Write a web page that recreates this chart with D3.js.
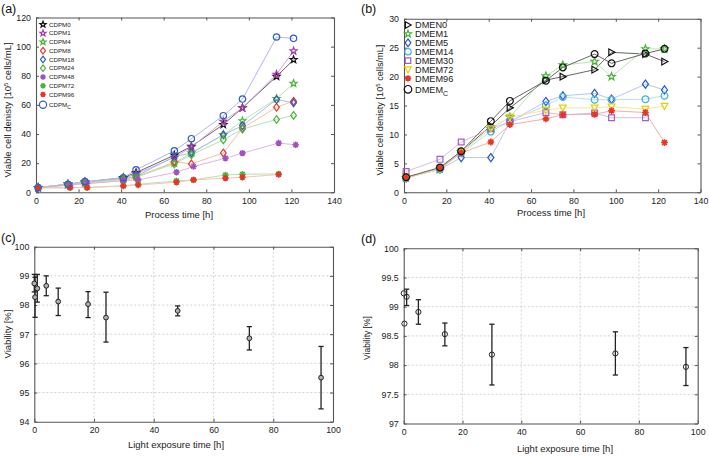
<!DOCTYPE html>
<html><head><meta charset="utf-8">
<script src="https://cdn.jsdelivr.net/npm/d3@7"></script>
<style>
body{margin:0;background:#fff;}
svg{display:block;font-family:"Liberation Sans",Arial,sans-serif;}
</style></head>
<body><svg id="c" width="709" height="456"></svg>
<script>
// ---------- DATA ----------
// Panel (a)
const timesA = [1,15,23,41,47,65,73,88,97,113,121];
const timesB = [1,16,24,41,48,66,74,89,97,114,122];
const timesB10 = [1,16,24,41,48,66,74,89,97,114];
const cdpm0  = [3.2,5.5,7,10,13.5,25.5,31.5,46.5,58,79.5,91];
const cdpm1  = [3.2,5.5,7,9.5,12.5,24,31,48.7,58,81,97];
const cdpm4  = [3.2,5.5,6.5,9,11,20,27,39.5,49,64.3,74.7];
const cdpm8  = [3.2,5,6,8,10,21,19.5,27,44,58.4,62.5];
const cdpm18 = [3.2,5.5,7,9,11,24.5,27,39.5,45.7,63.7,61.4];
const cdpm24 = [3.2,5.5,6.5,9,10.5,19.5,25.7,36,43.4,50,52.8];
const cdpm48 = [3,5,6,8,8.5,13.8,17.7,23.4,26.9,33.8,32.6];
const cdpm72 = [3,3.2,3.3,4.5,5.5,7.8,8.5,11.9,12.4,12.6];
const cdpm96 = [3,3.2,3.2,4.3,5,6.9,8.5,9.7,10.3,12.2];
const cdpmC  = [3.2,5.5,7.3,10,15.4,28.5,36.8,52.6,64,106.6,105.7];
const namesA = ["CDPM0","CDPM1","CDPM4","CDPM8","CDPM18","CDPM24","CDPM48","CDPM72","CDPM96","CDPM"];
// Panel (b)
const timesD = [1,17,27,41,50,67,75,90,98,114,123];
const dmen0  = [2.6,4,7,11.5,14.6,19.4,20,21.2,24.2,23.9,22.6];
const dmem1  = [2.5,4,7,11,13,20.1,22,22.6,20,24.8,24.8];
const dmem5  = [2.5,4,6,6,12.2,15.7,16.7,17.1,16.1,18.7,17.7];
const dmem14 = [2.5,4,6.8,10.5,12.3,15,16.5,16,16,16.1,16.7];
const dmem30 = [3.6,5.7,8.7,11,12.2,13.8,13.4,13.7,12.9,12.9];
const dmem72 = [2.5,4,7,11,13,14.2,14.6,14.6,14.8,14.4,14.9];
const dmem96 = [2.5,4.2,6.8,8.7,11.7,12.7,13.4,13.5,14.1,13.8,8.6];
const dmemC  = [2.6,4.3,7.1,12.3,15.8,19.3,21.6,23.9,22.3,24,24.8];
const namesB = ["DMEN0","DMEM1","DMEM5","DMEM14","DMEM30","DMEM72","DMEM96","DMEM"];
// Panel (c)
const expC   = [0,0.25,1,4,8,18,24,48,72,96];
const viabC  = [98.74,98.27,98.57,98.66,98.12,98.03,97.57,97.8,96.86,95.51];
const viabCLo= [98.45,97.58,98.1,98.32,97.64,97.57,96.73,97.63,96.46,94.44];
const viabCHi= [99.05,98.95,99.05,99.0,98.58,98.46,98.44,97.97,97.26,96.58];
// Panel (d)
const expD   = [0,0.25,1,5,14,30,72,96];
const viabD  = [99.23,98.71,99.17,98.91,98.53,98.18,98.2,97.97];
const viabDLo= [99.23,98.71,99.02,98.70,98.33,97.66,97.83,97.65];
const viabDHi= [99.23,98.71,99.30,99.12,98.72,98.70,98.57,98.30];

// ---------- STYLE ----------
const colA = ["#111111","#a838b0","#4cb03c","#e83424","#2c58c0","#4cb03c","#a050c0","#4cb03c","#e83424","#3060c8"];
const lineA = ["#666666","#d4a4dc","#b8e2b0","#f6c0a4","#aabce6","#b8e2b0","#dab8e6","#b8e2b0","#f6c8ae","#b4b4ec"];
const mkA = ["star","star","star","diamond","diamond","diamond","asterisk","asterisk","asterisk","circle"];
const colB = ["#111111","#4cb03c","#2c58c0","#40b0e0","#a060c0","#e8d000","#e83424","#111111"];
const lineB = ["#666666","#bce4b4","#b4c8ec","#b4e0f2","#d8bce6","#f2ea9c","#f4b0a8","#666666"];
const mkB = ["triRight","star","diamond","circle","square","triDown","asterisk","circle"];

const svg = d3.select("#c");
const axisCol = "#555";

function markerPath(type, s){
  const p = d3.path();
  if(type==="star"){
    for(let i=0;i<10;i++){
      const r = i%2===0? s*1.15 : s*0.48;
      const a = -Math.PI/2 + i*Math.PI/5;
      if(i===0) p.moveTo(r*Math.cos(a), r*Math.sin(a)); else p.lineTo(r*Math.cos(a), r*Math.sin(a));
    }
    p.closePath();
  } else if(type==="diamond"){
    p.moveTo(0,-s*1.2); p.lineTo(s*0.9,0); p.lineTo(0,s*1.2); p.lineTo(-s*0.9,0); p.closePath();
  } else if(type==="square"){
    p.rect(-s*0.85,-s*0.85,s*1.7,s*1.7);
  } else if(type==="triRight"){
    p.moveTo(-s*0.8,-s); p.lineTo(s*1.0,0); p.lineTo(-s*0.8,s); p.closePath();
  } else if(type==="triDown"){
    p.moveTo(-s,-s*0.8); p.lineTo(s,-s*0.8); p.lineTo(0,s); p.closePath();
  } else if(type==="asterisk"){
    for(let i=0;i<4;i++){
      const a = i*Math.PI/4;
      p.moveTo(-s*Math.cos(a),-s*Math.sin(a)); p.lineTo(s*Math.cos(a),s*Math.sin(a));
    }
  } else {
    p.arc(0,0,s,0,2*Math.PI);
  }
  return p.toString();
}
function drawMarker(g,type,x,y,s,col){
  const isAst = type==="asterisk";
  g.append("path").attr("d",markerPath(type,s)).attr("transform",`translate(${x},${y})`)
    .attr("fill","none").attr("stroke",col).attr("stroke-width", isAst?1.6:1.2);
}

function frame(x,y,xt,yt,fmtY,grid){
  const [x0,x1]=x.range(), [y0,y1]=y.range();
  const g = svg.append("g");
  if(grid){
    xt.forEach(t=>{ if(t>x.domain()[0]&&t<x.domain()[1]) g.append("line").attr("x1",x(t)).attr("x2",x(t)).attr("y1",y0).attr("y2",y1).attr("stroke","#c8c8c8").attr("stroke-dasharray","2,2").attr("stroke-width",0.8);});
    yt.forEach(t=>{ if(t>y.domain()[0]&&t<y.domain()[1]) g.append("line").attr("x1",x0).attr("x2",x1).attr("y1",y(t)).attr("y2",y(t)).attr("stroke","#c8c8c8").attr("stroke-dasharray","2,2").attr("stroke-width",0.8);});
  }
  const bot = g.append("g").attr("transform",`translate(0,${y0})`).call(d3.axisBottom(x).tickValues(xt).tickSizeInner(-3).tickSizeOuter(0).tickPadding(5));
  const top = g.append("g").attr("transform",`translate(0,${y1})`).call(d3.axisTop(x).tickValues(xt).tickSizeInner(-3).tickSizeOuter(0).tickFormat(""));
  const lef = g.append("g").attr("transform",`translate(${x0},0)`).call(d3.axisLeft(y).tickValues(yt).tickSizeInner(-3).tickSizeOuter(0).tickPadding(5).tickFormat(fmtY));
  const rig = g.append("g").attr("transform",`translate(${x1},0)`).call(d3.axisRight(y).tickValues(yt).tickSizeInner(-3).tickSizeOuter(0).tickFormat(""));
  [bot,top,lef,rig].forEach(a=>{
    a.select(".domain").attr("stroke",axisCol).attr("stroke-width",1.1);
    a.selectAll(".tick line").attr("stroke",axisCol);
    a.selectAll("text").attr("font-size",8.8).attr("fill","#222").attr("font-family","'Liberation Sans',Arial,sans-serif");
  });
  return g;
}

// ---------- PANEL (a) ----------
{
  const x = d3.scaleLinear().domain([0,140]).range([36,334]);
  const y = d3.scaleLinear().domain([0,120]).range([192.3,17.5]);
  frame(x,y,d3.range(0,141,20),d3.range(0,121,20),d3.format("d"),false);
  const series = [cdpm0,cdpm1,cdpm4,cdpm8,cdpm18,cdpm24,cdpm48,cdpm72,cdpm96,cdpmC];
  const tms = [timesA,timesA,timesA,timesA,timesA,timesA,timesB,timesB10,timesB10,timesA];
  const g = svg.append("g");
  const line = d3.line().x(d=>x(d[0])).y(d=>y(d[1]));
  series.forEach((s,i)=>{
    const pts = s.map((v,j)=>[tms[i][j],v]);
    g.append("path").attr("d",line(pts)).attr("fill","none").attr("stroke",lineA[i]).attr("stroke-width",1);
  });
  series.forEach((s,i)=>{
    s.forEach((v,j)=>drawMarker(g,mkA[i],x(tms[i][j]),y(v),3.2,colA[i]));
  });
  // legend
  const lg = svg.append("g");
  namesA.forEach((n,i)=>{
    const yy = 24.5 + i*8.75 + (i===9?1.5:0);
    drawMarker(lg,mkA[i],43,yy,i===9?3.6:2.8,colA[i]);
    const t = lg.append("text").attr("x",49).attr("y",yy+2.2).attr("font-size",6.2).attr("fill","#222").text(n);
    if(i===9) t.append("tspan").attr("dy",2.5).attr("font-size",5).text("C");
  });
  svg.append("text").attr("x",179).attr("y",218).attr("text-anchor","middle").attr("font-size",9.5).attr("fill","#222").text("Process time [h]");
  const yl = svg.append("text").attr("transform","translate(11,110) rotate(-90)").attr("text-anchor","middle").attr("font-size",9.5).attr("fill","#222");
  yl.append("tspan").text("Viable cell denisty [10");
  yl.append("tspan").attr("dy",-3.5).attr("font-size",6).text("5");
  yl.append("tspan").attr("dy",3.5).text(" cells/mL]");
  svg.append("text").attr("x",1).attr("y",13).attr("font-size",12.5).attr("fill","#111").text("(a)");
}

// ---------- PANEL (b) ----------
{
  const x = d3.scaleLinear().domain([0,140]).range([404,700.5]);
  const y = d3.scaleLinear().domain([0,30]).range([192.3,18.8]);
  frame(x,y,d3.range(0,141,20),d3.range(0,31,5),d3.format("d"),false);
  const series = [dmen0,dmem1,dmem5,dmem14,dmem30,dmem72,dmem96,dmemC];
  const g = svg.append("g");
  const line = d3.line().x(d=>x(d[0])).y(d=>y(d[1]));
  series.forEach((s,i)=>{
    const pts = s.map((v,j)=>[timesD[j],v]);
    g.append("path").attr("d",line(pts)).attr("fill","none").attr("stroke",lineB[i]).attr("stroke-width",1);
  });
  series.forEach((s,i)=>{
    s.forEach((v,j)=>drawMarker(g,mkB[i],x(timesD[j]),y(v),3.4,colB[i]));
  });
  const lg = svg.append("g");
  namesB.forEach((n,i)=>{
    const yy = 25 + i*8.9 + (i===7?2:0);
    drawMarker(lg,mkB[i],408,yy,i===7?3.8:3.2,colB[i]);
    const t = lg.append("text").attr("x",415).attr("y",yy+3.4).attr("font-size",9.2).attr("fill","#222").text(n);
    if(i===7) t.append("tspan").attr("dy",3).attr("font-size",7).text("C");
  });
  svg.append("text").attr("x",551).attr("y",216).attr("text-anchor","middle").attr("font-size",9.5).attr("fill","#222").text("Process time [h]");
  const yl = svg.append("text").attr("transform","translate(383,110) rotate(-90)").attr("text-anchor","middle").attr("font-size",9.2).attr("fill","#222");
  yl.append("tspan").text("Viable cell denisty [10");
  yl.append("tspan").attr("dy",-3.5).attr("font-size",6).text("5");
  yl.append("tspan").attr("dy",3.5).text(" cells/mL]");
  svg.append("text").attr("x",361).attr("y",13).attr("font-size",12.5).attr("fill","#111").text("(b)");
}

function errPanel(x,y,ts,vs,lo,hi,fill,r){
  const g = svg.append("g");
  ts.forEach((t,i)=>{
    if(hi[i]-lo[i]>0.001){
      g.append("line").attr("x1",x(t)).attr("x2",x(t)).attr("y1",y(lo[i])).attr("y2",y(hi[i])).attr("stroke","#222").attr("stroke-width",1.3);
      [lo[i],hi[i]].forEach(v=>g.append("line").attr("x1",x(t)-2.6).attr("x2",x(t)+2.6).attr("y1",y(v)).attr("y2",y(v)).attr("stroke","#222").attr("stroke-width",1.3));
    }
  });
  ts.forEach((t,i)=>g.append("circle").attr("cx",x(t)).attr("cy",y(vs[i])).attr("r",r).attr("fill",fill).attr("stroke","#222").attr("stroke-width",1));
}

// ---------- PANEL (c) ----------
{
  const x = d3.scaleLinear().domain([0,100]).range([34.3,333]);
  const y = d3.scaleLinear().domain([94,100]).range([421.7,246.7]);
  frame(x,y,d3.range(0,101,20),d3.range(94,101,1),d3.format("d"),true);
  errPanel(x,y,expC,viabC,viabCLo,viabCHi,"#b0b0b0",2.4);
  svg.append("text").attr("x",176).attr("y",448).attr("text-anchor","middle").attr("font-size",9.5).attr("fill","#222").text("Light exposure time [h]");
  svg.append("text").attr("transform","translate(11,334) rotate(-90)").attr("text-anchor","middle").attr("font-size",9.5).attr("fill","#222").text("Viability [%]");
  svg.append("text").attr("x",1).attr("y",242).attr("font-size",12.5).attr("fill","#111").text("(c)");
}

// ---------- PANEL (d) ----------
{
  const x = d3.scaleLinear().domain([0,100]).range([403.7,697.7]);
  const y = d3.scaleLinear().domain([97,100]).range([423.5,248.3]);
  frame(x,y,d3.range(0,101,20),d3.range(97,100.01,0.5),d=>d3.format("")(+d.toFixed(1)),true);
  errPanel(x,y,expD,viabD,viabDLo,viabDHi,"none",2.6);
  svg.append("text").attr("x",565).attr("y",452).attr("text-anchor","middle").attr("font-size",9.5).attr("fill","#222").text("Light exposure time [h]");
  svg.append("text").attr("transform","translate(370,338) rotate(-90)").attr("text-anchor","middle").attr("font-size",8.5).attr("fill","#222").text("Viability [%]");
  svg.append("text").attr("x",361).attr("y",243).attr("font-size",12.5).attr("fill","#111").text("(d)");
}
</script></body></html>
